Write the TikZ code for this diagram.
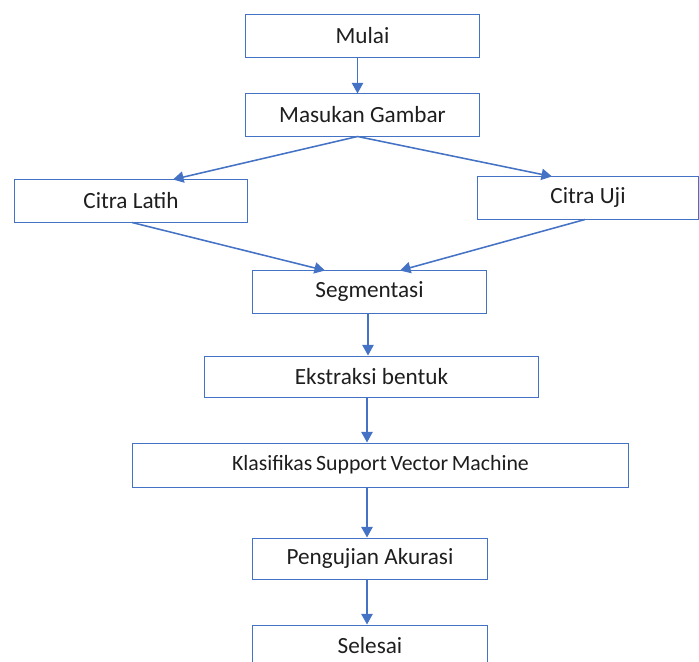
\documentclass[tikz,border=0pt]{standalone}
\usepackage{fontspec}
\setmainfont{Carlito}
\usepackage{tikz}
\usetikzlibrary{arrows.meta,positioning}
\usetikzlibrary{calc}

\definecolor{boxblue}{HTML}{4472C4}
\definecolor{txtgray}{HTML}{1E1E1E}

\begin{document}
\begin{tikzpicture}[x=0.025cm, y=-0.025cm,
    kotak/.style={draw=boxblue, line width=0.7pt, text=txtgray, inner sep=0pt,
      minimum height=1.05cm, font=\fontsize{16.5}{19}\selectfont},
    panah/.style={draw=boxblue, line width=1.1pt, -{Triangle[width=8pt,length=7.5pt]}}]
          \useasboundingbox (0,0) rectangle (699,662);
          \clip (0,0) rectangle (699,662);
          \node[kotak, minimum width=5.825cm] (mulai) at (362.5,36) {Mulai};
          \node[kotak, minimum width=5.825cm] (masukan) at (362.5,115) {Masukan Gambar};
          \node[kotak, minimum width=5.8cm] (latih) at (131,201) {Citra Latih};
          \node[kotak, minimum width=5.5cm] (uji) at (588,198) {Citra Uji};
          \node[kotak, minimum width=5.825cm] (segmen) at (369.5,292) {Segmentasi};
          \node[kotak, minimum width=8.325cm, minimum height=1.025cm] (ekstraksi) at (371.5,376.5) {Ekstraksi bentuk};
          \node[kotak, minimum width=12.375cm, minimum height=1.1cm,
            font=\fontsize{15.5}{18}\selectfont] (svm) at (380.5,465) {\spaceskip=0.17em\relax Klasifikas Support Vector Machine};
          \node[kotak, minimum width=5.85cm, minimum height=1.025cm] (uji akurasi) at (370,558.5) {Pengujian Akurasi};
          \node[kotak, minimum width=5.85cm, minimum height=1.025cm] (selesai) at (370,645.5) {Selesai};
          % alur
          \draw[panah] ($(mulai.south)+(-5,0)$) -- ($(masukan.north)+(-5,0)$);
          \draw[panah] ($(masukan.south)+(-5,0)$) -- ($(latih.north)+(42,0)$);
          \draw[panah] ($(masukan.south)+(-5,0)$) -- ($(uji.north)+(-36,0)$);
          \draw[panah] ($(latih.south)+(1,0)$) -- ($(segmen.north)+(-44.5,0)$);
          \draw[panah] ($(uji.south)+(-3,0)$) -- ($(segmen.north)+(30.5,0)$);
          \draw[panah] ($(segmen.south)+(-1.5,0)$) -- ($(segmen.south |- ekstraksi.north)+(-1.5,0)$);
          \draw[panah] ($(ekstraksi.south)+(-4.5,0)$) -- ($(ekstraksi.south |- svm.north)+(-4.5,0)$);
          \draw[panah] ($(svm.south)+(-13.5,0)$) -- ($(uji akurasi.north)+(-3,0)$);
          \draw[panah] ($(uji akurasi.south)+(-3,0)$) -- ($(selesai.north)+(-3,0)$);
        \end{tikzpicture}
\end{document}
